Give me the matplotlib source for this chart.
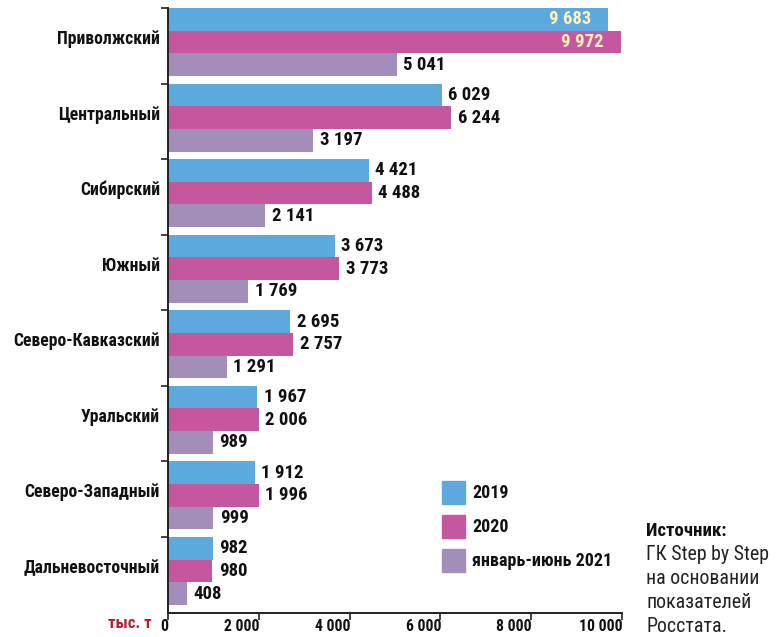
import matplotlib
matplotlib.use("Agg")
import matplotlib.pyplot as plt
from matplotlib.patches import Rectangle

regions = ["Приволжский", "Центральный", "Сибирский", "Южный",
           "Северо-Кавказский", "Уральский", "Северо-Западный", "Дальневосточный"]
v2019 = [9683, 6029, 4421, 3673, 2695, 1967, 1912, 982]
v2020 = [9972, 6244, 4488, 3773, 2757, 2006, 1996, 980]
v2021 = [5041, 3197, 2141, 1769, 1291, 989, 999, 408]
series_names = ["2019", "2020", "январь-июнь 2021"]
xticks = [0, 2000, 4000, 6000, 8000, 10000]
xtick_labels = ["0", "2 000", "4 000", "6 000", "8 000", "10 000"]

colors = ["#5DA9DD", "#C5579F", "#A38DB9"]
FONT = ["Roboto Condensed", "PT Sans Narrow", "Fira Sans Condensed", "DejaVu Sans"]
plt.rcParams['font.family'] = FONT

def fmt(v):
    return f"{v:,}".replace(",", " ")

fig = plt.figure(figsize=(7.83, 6.37), dpi=100)
ax = fig.add_axes([168/783, 1-612.5/637, (622-168)/783, (612.5-8)/637])

bh = 0.3
series = [v2019, v2020, v2021]
for s, vals in enumerate(series):
    for i, v in enumerate(vals):
        y = i + s*bh
        ax.barh(y, v, height=bh, align='edge', color=colors[s], edgecolor='none')
        inside = (i == 0 and s < 2)
        if inside:
            ax.annotate(fmt(v), (v, y + bh/2), xytext=(-12, 0), textcoords='offset points',
                        ha='right', va='center', fontsize=13.5, fontweight='bold', color='#FFF3B5')
        else:
            ax.annotate(fmt(v), (v, y + bh/2), xytext=(4.6, 0), textcoords='offset points',
                        ha='left', va='center', fontsize=13.5, fontweight='bold', color='#111111')

ax.set_xlim(0, 10000)
ax.set_ylim(8, 0)
ax.set_yticks(range(0, 8))
ax.set_yticklabels([])
for i, r in enumerate(regions):
    ax.text(-8/454, i + 0.41, r, transform=ax.get_yaxis_transform(), ha='right', va='center',
            fontsize=12.7, fontweight='bold', color='#111111')
ax.set_xticks(xticks)
ax.set_xticklabels([])
for x, lab in zip(xticks, xtick_labels):
    ax.annotate(lab, (x, 0), xycoords=('data', 'axes fraction'), xytext=(0.5, -9.8),
                textcoords='offset points', ha='right', va='center', fontsize=11.3, fontweight='bold',
                color='#111111')
ax.tick_params(axis='both', direction='out', length=5, width=1.2, color='#222222')
for sp in ['top', 'right']:
    ax.spines[sp].set_visible(False)
for sp in ['left', 'bottom']:
    ax.spines[sp].set_linewidth(1.4)
    ax.spines[sp].set_color('#222222')

fig.text(152/783, 1-624/637, "тыс. т", ha='right', va='center', fontsize=12,
         fontweight='bold', color='#C0192C')

# legend
leg_y = [492.5, 526.5, 560.5]
for c, name, yy in zip(colors, series_names, leg_y):
    fig.patches.append(Rectangle((442/783, 1-(yy+11.3)/637), 23/783, 22.6/637,
                                 transform=fig.transFigure, color=c, figure=fig))
    fig.text(472.5/783, 1-yy/637, name, ha='left', va='center', fontsize=13,
             fontweight='bold', color='#111111')

fig.text(646/783, 1-531/637, "Источник:", ha='left', va='center', fontsize=13.5,
         fontweight='bold', color='#111111')
src = ["ГК Step by Step", "на основании", "показателей", "Росстата."]
for k, line in enumerate(src):
    fig.text(646/783, 1-(555+k*23.7)/637, line, ha='left', va='center', fontsize=14.3,
             color='#222222')

fig.savefig("out.png", dpi=100)
